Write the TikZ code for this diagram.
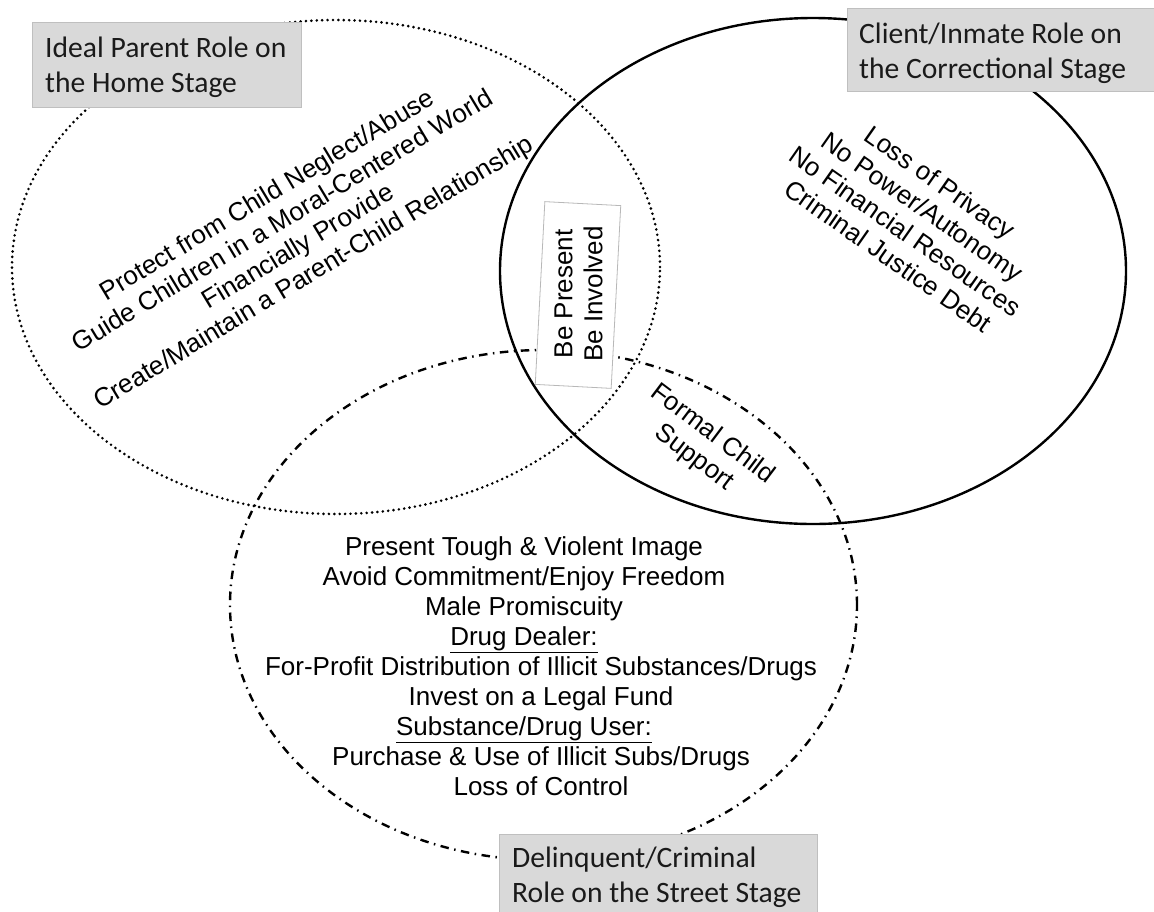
\documentclass[tikz,border=0pt]{standalone}
\usepackage{fontspec}
\setmainfont{Liberation Sans}
\newfontfamily\calibri{Carlito}
\definecolor{boxgray}{HTML}{D9D9D9}
\definecolor{boxedge}{HTML}{BFBFBF}
\definecolor{thinedge}{HTML}{B8B8B8}
\definecolor{lbltext}{HTML}{1A1A1A}
\begin{document}
\begin{tikzpicture}[x=1pt,y=-1pt,
  dotline/.style={line width=2.9pt, line cap=round, dash pattern=on 0pt off 5.4pt},
  solidline/.style={line width=2.4pt},
  dashdotline/.style={line width=2.4pt, dash pattern=on 8.5pt off 5.5pt on 1.5pt off 5.5pt},
  body/.style={font=\fontsize{26}{30}\selectfont, inner sep=0pt, align=center},
  graybox/.style={fill=boxgray, draw=boxedge, line width=0.8pt, inner sep=0pt},
  lbl/.style={font=\calibri\fontsize{29.6}{35}\selectfont, text=lbltext, inner sep=0pt, align=left}]
\useasboundingbox (0,0) rectangle (1154,911);
\clip (0,0) rectangle (1154,911);
\fill[white] (0,0) rectangle (1154,911);

% ellipses
\draw[dotline] (336,267) ellipse [x radius=324pt, y radius=247pt];
\draw[solidline] (813,271) ellipse [x radius=313pt, y radius=253pt];
\draw[dashdotline] (543.5,605) ellipse [x radius=313.5pt, y radius=255pt];

% overlap box
\node[draw=thinedge, fill=white, line width=0.8pt, minimum width=183pt, minimum height=76pt, rotate=87, inner sep=0pt] (bpbox) at (578,295) {};
\node[body, rotate=90] (bp) at (578.5,294) {Be Present\\Be Involved};

% texts
\node[body, rotate=31] (home) at (291,235) {Protect from Child Neglect/Abuse\\Guide Children in a Moral-Centered World\\Financially Provide\\Create/Maintain a Parent-Child Relationship};
\node[body, rotate=-35] (corr) at (914,219) {Loss of Privacy\\No Power/Autonomy\\No Financial Resources\\Criminal Justice Debt};
\node[body, rotate=-37] (sup) at (703,446) {Formal Child\\Support};
\node[body, anchor=base] (street) at (524,795) {Present Tough \& Violent Image\\Avoid Commitment/Enjoy Freedom\\Male Promiscuity\\\underline{Drug Dealer:}\\\hspace*{34pt}For-Profit Distribution of Illicit Substances/Drugs\\\hspace*{34pt}Invest on a Legal Fund\\\underline{Substance/Drug User:}\\\hspace*{34pt}Purchase \& Use of Illicit Subs/Drugs\\\hspace*{34pt}Loss of Control};

% label boxes
\node[graybox, anchor=north west, minimum width=269pt, minimum height=85pt] (b1) at (32,22) {};
\node[lbl, anchor=base west] (l1) at (45,92) {Ideal Parent Role on\\the Home Stage};
\node[graybox, anchor=north west, minimum width=320pt, minimum height=83pt] (b2) at (847,8) {};
\node[lbl, anchor=base west] (l2) at (859,78) {Client/Inmate Role on\\the Correctional Stage};
\node[graybox, anchor=north west, minimum width=318pt, minimum height=100pt] (b3) at (499,834) {};
\node[lbl, anchor=base west] (l3) at (512,902) {Delinquent/Criminal\\Role on the Street Stage};
\end{tikzpicture}
\end{document}
